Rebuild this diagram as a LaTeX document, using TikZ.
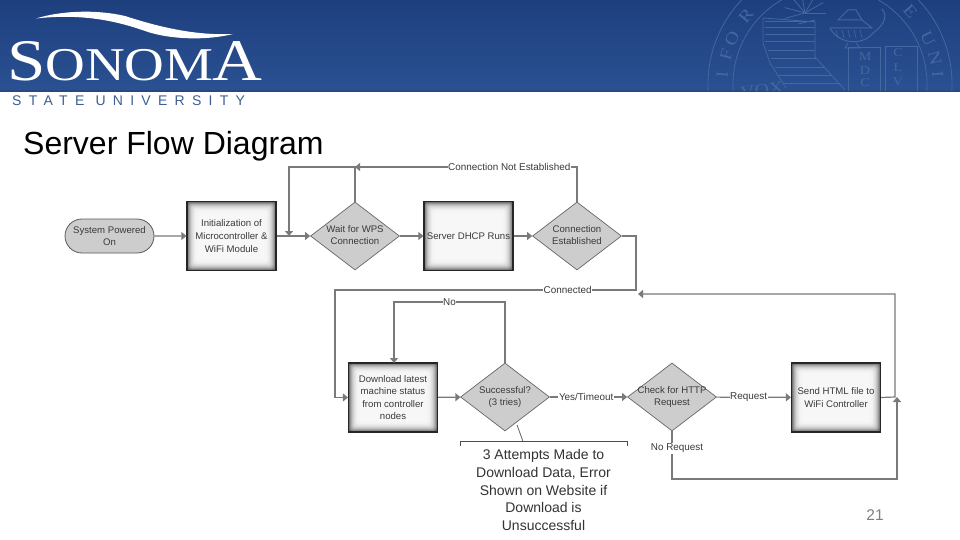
\documentclass[tikz,border=0pt]{standalone}
\usepackage{fontspec}
\setmainfont{Liberation Sans}
\newfontfamily\logofont[FakeStretch=1.17]{Liberation Serif}
\usetikzlibrary{shapes.geometric,shapes.misc,arrows.meta}
\definecolor{banA}{HTML}{1E3F7E}
\definecolor{banB}{HTML}{2A5192}
\definecolor{sealc}{HTML}{44679F}
\definecolor{flowc}{HTML}{7A7A7A}
\definecolor{dgray}{HTML}{CDCDCD}
\definecolor{txtc}{HTML}{3A3A3A}
\definecolor{univc}{HTML}{3F5F92}
\newcommand{\ctext}[1]{\makebox[0pt][c]{\smash{\raisebox{-2.5pt}{\begin{tabular}[c]{@{}c@{}}#1\end{tabular}}}}}
\tikzset{
  x=1pt,y=-1pt,
  flow/.style={draw=flowc,line width=1.2pt,-{Triangle[length=5pt,width=8pt]}},
  nodetxt/.style={text=txtc,font=\fontsize{9.6}{12.6}\selectfont,align=center,inner sep=0pt},
  startbox/.style={nodetxt,rounded rectangle,draw=black!65,line width=.8pt,fill=dgray,minimum width=89pt,minimum height=34pt},
  glowbox/.style={nodetxt,draw=black!85,line width=1.2pt,minimum width=89pt,minimum height=69pt,
    path picture={
      \foreach \i/\c in {0/60,1/46,2/35,3/26,4/19,5/14,6/10,7/7,8/5,9/4,11/3}{
        \fill[black!\c,rounded corners=3pt] ([xshift=\i pt,yshift=-\i pt]path picture bounding box.north west)
          rectangle ([xshift=-\i pt,yshift=\i pt]path picture bounding box.south east);
      }}},
  decision/.style={nodetxt,diamond,draw=black!60,line width=.7pt,fill=dgray,minimum width=89pt,minimum height=68pt},
  elabel/.style={text=txtc,font=\fontsize{9.9}{12}\selectfont,fill=white,inner sep=.6pt},
  sealline/.style={draw=sealc,line width=.8pt},
  sealtext/.style={text=sealc,font=\logofont\fontsize{17}{17}\selectfont,inner sep=0pt},
  bookletter/.style={text=sealc,font=\logofont\fontsize{12}{12}\selectfont,inner sep=0pt},
}
\begin{document}
\begin{tikzpicture}
\useasboundingbox (0,0) rectangle (960,540);
\fill[white] (0,0) rectangle (960,540);
% banner
\shade[top color=banA,bottom color=banB] (0,0) rectangle (960,91);
\fill[black!10!banB] (0,90.5) rectangle (960,92);
% seal
\begin{scope}
\clip (0,0) rectangle (960,90.5);
\draw[sealline] (830,84) circle (122);
\draw[sealline] (830,84) circle (97);
\foreach \a/\l in {175/I,164/F,155/O,141/R,42/E,25/U,14/N,5/I}{
  \node[sealtext,rotate=\a-90] (seal\a) at ({830+108*cos(\a)},{84-108*sin(\a)}) {\l};
}
\node[sealtext,rotate=8] (sealvox) at (762,90) {VOX};
% California
\draw[sealline] (763,18) -- (815,22) -- (815,57) -- (845,90);
\draw[sealline] (763,18) -- (763,43) -- (770,63) -- (786,88);
\foreach \y in {21,27,34,41,50,58,67,75,83}{
  \draw[sealline,line width=.7pt] ({\y<44?765:765+(\y-44)*.45},\y) -- ({\y<57?815:815+(\y-57)*.95},\y);
}
% lamp
\draw[sealline,line width=1pt] (830,28) .. controls (838,44) and (862,46) .. (872,34) .. controls (880,28) and (890,18) .. (882,9);
\draw[sealline,line width=1pt] (830,28) -- (872,28) -- (862,20) -- (838,20) -- (848,10) -- (856,10) -- (862,20);
\foreach \i in {836,842,848,854,860}{\draw[sealline,line width=.6pt] (\i,30) -- (\i+2,38);}
\draw[sealline] (848,43) -- (845,48) -- (860,48) -- (856,43);
% books
\draw[sealline,line width=1pt] (848,91) -- (848,48) -- (880,48) -- (880,91);
\draw[sealline,line width=1pt] (885,91) -- (885,47) -- (917,47) -- (917,91);
\foreach \i/\l/\y in {1/M/57,2/D/71,3/C/83}{\node[bookletter] (sealb\i) at (865,\y) {\l};}
\foreach \i/\l/\y in {1/C/53,2/L/68,3/V/82}{\node[bookletter] (sealr\i) at (898,\y) {\l};}
% star
\foreach \a in {0,30,60,100,130,165,195}{\draw[sealline] (805,13) -- ({805+21*cos(\a)},{13-21*sin(\a)});}
\draw[sealline] (798,24) -- (815,20);
\end{scope}
% logo
\fill[white] (36,18.5) .. controls (60,11) and (95,9) .. (125,16) .. controls (150,24) and (190,36) .. (233,34)
  .. controls (205,41) and (170,39) .. (148,32) .. controls (120,22) and (85,13) .. (36,18.5) -- cycle;
\node[anchor=base west,inner sep=0pt,text=white] (sonoma) at (7,81)
  {\logofont\fontsize{59}{59}\selectfont S\fontsize{47}{47}\selectfont ONOM\kern-1pt\fontsize{59}{59}\selectfont A};
\node[anchor=base west,inner sep=0pt,text=univc] (state) at (12,106)
  {\addfontfeature{LetterSpace=52}\fontsize{14}{14}\selectfont STATE UNIVERSITY};
% title
\node[anchor=base west,inner sep=0pt,text=black] (title) at (23,155)
  {\fontsize{32}{32}\selectfont Server Flow Diagram};
\node[text=black!50,font=\fontsize{15.5}{15.5}\selectfont,inner sep=0pt] (pageno) at (875,515) {21};

% nodes
\node[startbox] (start) at (109.5,236) {System Powered\\On};
\node[glowbox] (init) at (231.5,236) {Initialization of\\Microcontroller \&\\WiFi Module};
\node[decision] (wait) at (355,236) {\ctext{Wait for WPS\\Connection}};
\node[glowbox] (dhcp) at (468.5,236) {Server DHCP Runs};
\node[decision] (conn) at (577,236) {\ctext{Connection\\Established}};
\node[glowbox] (down) at (393,397.5) {Download latest\\machine status\\from controller\\nodes};
\node[decision] (succ) at (505,397) {\ctext{Successful?\\(3 tries)}};
\node[decision] (check) at (672,397) {\ctext{Check for HTTP\\Request}};
\node[glowbox] (send) at (836,397.5) {Send HTML file to\\WiFi Controller};

% junction points
\coordinate (jwaitin) at (289,236);
\coordinate (jtop) at (355,167);
\coordinate (jret) at (638,294);
\coordinate (jsend) at (897,397);

% connectors
\draw[flow] (start) -- (init);
\draw[flow] (init) -- (wait);
\draw[flow] (wait) -- (dhcp);
\draw[flow] (dhcp) -- (conn);
\draw[flow] (down) -- (succ);
\draw[flow] (succ) -- node[elabel,pos=.47] (lyes) {Yes/Timeout} (check);
\draw[flow] (check) -- node[elabel,pos=.43] (lreq) {Request} (send);
\draw[flow] (wait.north) -- (jtop) -- (289,167) -- (jwaitin);
\draw[flow] (conn.north) -- (577,167) -- node[elabel,pos=.305] (lnot) {Connection Not Established} (jtop);
\draw[flow] (conn.east) -- (636,236) -- (636,290) -- node[elabel,pos=.227] (lconn) {Connected} (335,290) -- (335,397.5) -- (down.west);
\draw[flow] (succ.north) -- (505,302) -- node[elabel,pos=.5] (lno) {No} (394,302) -- (394,363);
\draw[flow] (send.east) -- (895,397) -- (895,294) -- (jret);
\draw[flow] (check.south) -- node[elabel,pos=.36,xshift=5pt] (lnoreq) {No Request} (672,479) -- (897,479) -- (jsend);

% annotation
\draw[black!60,line width=.8pt] (517,425) -- (523,441.5) coordinate (anntop);
\draw[black!70,line width=.8pt] (460,446) -- (460,441.5) -- (627,441.5) -- (627,446);
\node[text=black!80,font=\fontsize{14}{17.6}\selectfont,align=center,inner sep=0pt] (annot) at (543.5,490)
  {3 Attempts Made to\\Download Data, Error\\Shown on Website if\\Download is\\Unsuccessful};
\end{tikzpicture}
\end{document}
